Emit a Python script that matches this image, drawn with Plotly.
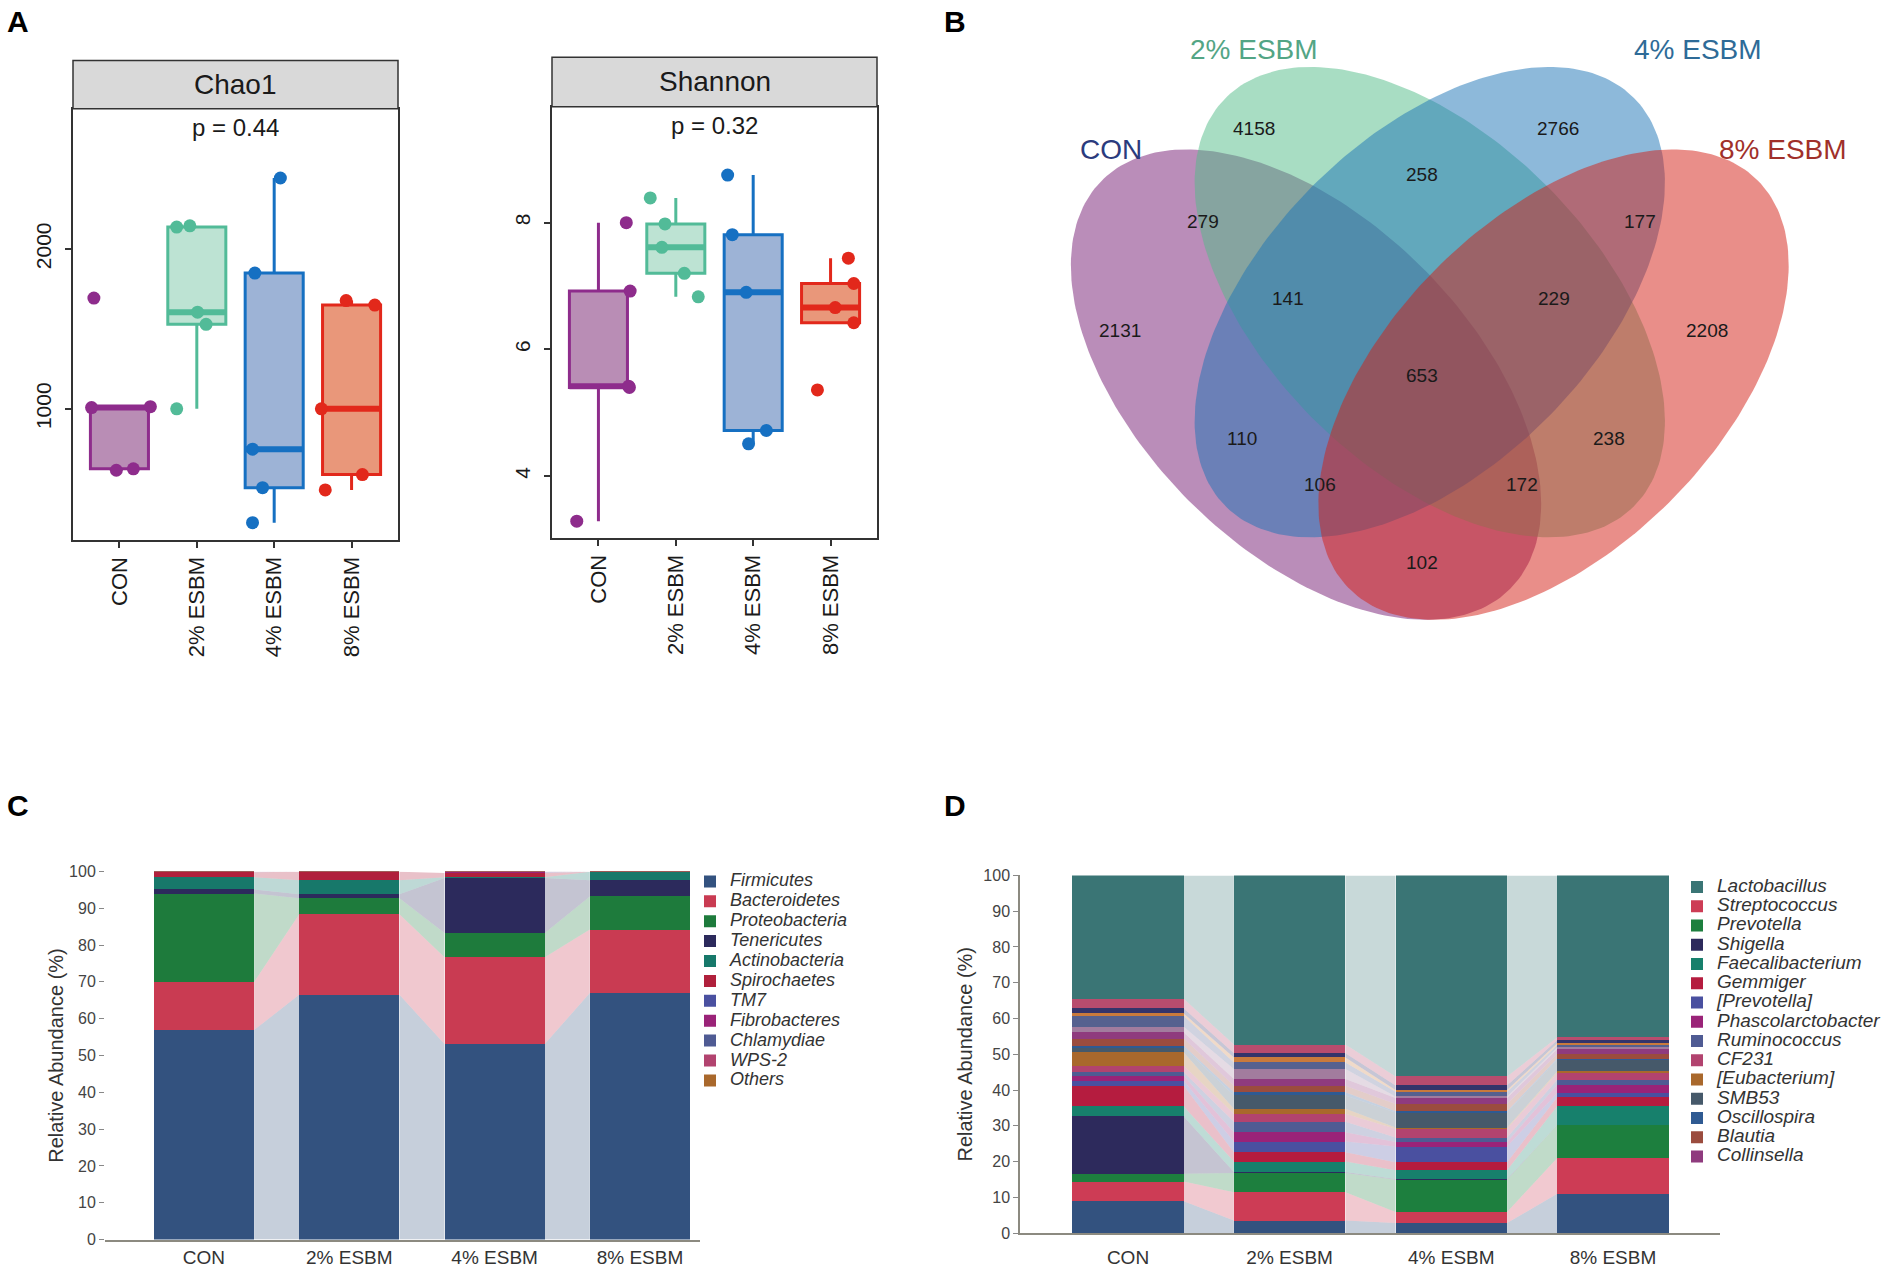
import numpy as np
import plotly.graph_objects as go

# ======================= DATA =======================
groups = ["CON", "2% ESBM", "4% ESBM", "8% ESBM"]

# Panel A - alpha diversity (5 samples per group)
chao1_con = [616, 625, 1008, 1014, 1693]
chao1_esbm2 = [1000, 1529, 1605, 2137, 2145]
chao1_esbm4 = [288, 507, 748, 1849, 2444]
chao1_esbm8 = [493, 589, 1000, 1649, 1677]
shannon_con = [3.29, 5.40, 5.42, 6.92, 8.00]
shannon_esbm2 = [6.83, 7.20, 7.61, 7.98, 8.39]
shannon_esbm4 = [4.51, 4.72, 6.90, 7.81, 8.75]
shannon_esbm8 = [5.36, 6.42, 6.66, 7.04, 7.44]
p_chao1 = "p = 0.44"
p_shannon = "p = 0.32"

# Panel B - Venn counts
venn_sets = ["CON", "2% ESBM", "4% ESBM", "8% ESBM"]
venn_regions = ["CON", "2%", "4%", "8%", "CON&2%", "2%&4%", "4%&8%", "CON&8%",
                "CON&2%&4%", "2%&4%&8%", "CON&2%&4%&8%", "CON&4%", "2%&8%",
                "CON&4%&8%", "CON&2%&8%"]
venn_counts = [2131, 4158, 2766, 2208, 279, 258, 177, 102,
               141, 229, 653, 110, 238, 106, 172]

# Panel C - phylum relative abundance (%)
phyla = ["Firmicutes", "Bacteroidetes", "Proteobacteria", "Tenericutes",
         "Actinobacteria", "Spirochaetes", "TM7", "Fibrobacteres",
         "Chlamydiae", "WPS-2", "Others"]
firmicutes = [56.9, 66.5, 53.1, 67.0]
bacteroidetes = [13.1, 21.9, 23.6, 17.2]
proteobacteria = [24.0, 4.3, 6.6, 9.0]
tenericutes = [1.1, 1.1, 14.9, 4.4]
actinobacteria = [3.3, 3.8, 0.2, 2.3]
spirochaetes = [1.4, 2.3, 1.2, 0.02]
tm7 = [0.05, 0.02, 0.10, 0.02]
fibrobacteres = [0.05, 0.01, 0.10, 0.01]
chlamydiae = [0.04, 0.01, 0.10, 0.01]
wps2 = [0.03, 0.01, 0.05, 0.01]
others_phylum = [0.03, 0.05, 0.05, 0.03]

# Panel D - genus relative abundance (%), stack order bottom -> top
genus_unlisted_bottom = [8.9, 3.5, 2.8, 11.0]
streptococcus = [5.5, 7.9, 3.1, 10.0]
prevotella = [2.2, 5.4, 9.0, 9.2]
shigella = [16.0, 0.3, 0.2, 0.1]
faecalibacterium = [2.8, 2.9, 2.5, 5.2]
gemmiger = [5.8, 2.6, 2.2, 2.5]
prevotella_br = [1.4, 3.0, 4.4, 1.2]
phascolarctobacter = [1.4, 2.6, 1.3, 2.3]
ruminococcus = [1.0, 2.9, 1.2, 1.4]
cf231 = [1.8, 2.3, 2.5, 1.8]
eubacterium_br = [3.7, 1.4, 0.3, 0.5]
smb53 = [1.4, 3.7, 4.2, 3.2]
oscillospira = [0.5, 0.9, 0.4, 0.4]
blautia = [2.0, 1.8, 2.0, 1.3]
collinsella = [1.7, 1.9, 1.7, 1.3]
minor_genus_1 = [1.6, 2.8, 0.4, 0.5]
minor_genus_2 = [3.0, 1.8, 1.3, 0.6]
minor_genus_3 = [0.7, 1.4, 0.5, 0.6]
minor_genus_4 = [1.4, 1.2, 1.3, 0.8]
minor_genus_5 = [2.7, 2.4, 2.5, 0.8]
lactobacillus = [34.5, 47.3, 56.2, 45.3]

# ======================= STYLE / LAYOUT =======================
W, H = 1902, 1280
FONT = "Liberation Sans, Arial, Helvetica, sans-serif"

def px_x(p):
    return p / W

def px_y(p):
    # vertical calibration of positions measured on the reference
    return 1 - (1.0125 * p - 8.85) / H

def rgba(hexc, a):
    hexc = hexc.lstrip("#")
    r, g, b = int(hexc[0:2], 16), int(hexc[2:4], 16), int(hexc[4:6], 16)
    return f"rgba({r},{g},{b},{a})"

box_line = ["#8E2C8C", "#52BB98", "#1670C2", "#E2281B"]
box_fill = ["#B98DB5", "#BDE3D3", "#9DB3D6", "#E9977A"]

jitter_chao1 = [[-0.04, 0.18, -0.36, 0.40, -0.33],
                [-0.26, 0.12, 0.01, -0.26, -0.09],
                [-0.28, -0.15, -0.28, -0.25, 0.08],
                [-0.34, 0.14, -0.39, 0.30, -0.07]]
jitter_shannon = [[-0.28, 0.40, 0.39, 0.41, 0.36],
                  [0.29, 0.11, -0.18, -0.14, -0.33],
                  [-0.06, 0.17, -0.09, -0.27, -0.33],
                  [-0.17, 0.30, 0.06, 0.30, 0.23]]

fig = go.Figure()

# ---------------- Panel A ----------------
def box_stats(v):
    v = np.sort(np.asarray(v, float))
    q1, med, q3 = np.percentile(v, [25, 50, 75])
    iqr = q3 - q1
    lo = v[v >= q1 - 1.5 * iqr].min()
    hi = v[v <= q3 + 1.5 * iqr].max()
    return q1, med, q3, lo, hi

BOXW = 0.75

def add_boxes(data, jit, xa, ya):
    for i, vals in enumerate(data):
        q1, med, q3, lo, hi = box_stats(vals)
        fig.add_trace(go.Box(
            x=[i], q1=[q1], median=[med], q3=[q3], lowerfence=[lo], upperfence=[hi],
            width=BOXW, whiskerwidth=0, fillcolor=box_fill[i],
            line=dict(color=box_line[i], width=3), boxpoints=False,
            name=groups[i], showlegend=False, xaxis=xa, yaxis=ya))
        fig.add_trace(go.Scatter(
            x=[i - BOXW / 2, i + BOXW / 2], y=[med, med], mode="lines",
            line=dict(color=box_line[i], width=6), showlegend=False,
            hoverinfo="skip", xaxis=xa, yaxis=ya))
        fig.add_trace(go.Scatter(
            x=[i + j for j in jit[i]], y=vals, mode="markers",
            marker=dict(color=box_line[i], size=13), showlegend=False,
            name=groups[i], xaxis=xa, yaxis=ya))

add_boxes([chao1_con, chao1_esbm2, chao1_esbm4, chao1_esbm8], jitter_chao1, "x", "y")
add_boxes([shannon_con, shannon_esbm2, shannon_esbm4, shannon_esbm8], jitter_shannon, "x2", "y2")

# ---------------- Panel B (Venn) ----------------
venn_fill = {"CON": "#751B73", "2% ESBM": "#51BB87", "4% ESBM": "#1B73B5", "8% ESBM": "#D31D13"}
venn_title_col = {"CON": "#2B3B7D", "2% ESBM": "#53A585", "4% ESBM": "#2E6B97", "8% ESBM": "#A0302A"}
venn_geom = {"CON": (0.357, 0.47, -45), "2% ESBM": (0.507, 0.57, -45),
             "4% ESBM": (0.507, 0.57, 45), "8% ESBM": (0.657, 0.47, 45)}
ELL_A, ELL_B = 0.35, 0.2
venn_title_pos = {"CON": (0.121, 0.755), "2% ESBM": (0.294, 0.876),
                  "4% ESBM": (0.832, 0.876), "8% ESBM": (0.935, 0.755)}
venn_label_pos = {"CON": (0.132, 0.536), "2%": (0.294, 0.781), "4%": (0.663, 0.781),
                  "8%": (0.843, 0.536), "CON&2%": (0.232, 0.668), "2%&4%": (0.497, 0.725),
                  "4%&8%": (0.762, 0.668), "CON&8%": (0.497, 0.254),
                  "CON&2%&4%": (0.335, 0.574), "2%&4%&8%": (0.657, 0.574),
                  "CON&2%&4%&8%": (0.497, 0.481), "CON&4%": (0.279, 0.405),
                  "2%&8%": (0.724, 0.405), "CON&4%&8%": (0.374, 0.349),
                  "CON&2%&8%": (0.619, 0.349)}

t = np.linspace(0, 2 * np.pi, 240)
for s in venn_sets:
    cx, cy, ang = venn_geom[s]
    th = np.deg2rad(ang)
    ex = cx + ELL_A * np.cos(t) * np.cos(th) - ELL_B * np.sin(t) * np.sin(th)
    ey = cy + ELL_A * np.cos(t) * np.sin(th) + ELL_B * np.sin(t) * np.cos(th)
    fig.add_trace(go.Scatter(x=ex, y=ey, fill="toself", mode="lines",
                             fillcolor=rgba(venn_fill[s], 0.5),
                             line=dict(width=0, color="rgba(0,0,0,0)"),
                             name=s, showlegend=False, hoverinfo="name",
                             xaxis="x3", yaxis="y3"))

annotations = []
for s in venn_sets:
    x, y = venn_title_pos[s]
    annotations.append(dict(x=x, y=y, xref="x3", yref="y3", text=s, showarrow=False,
                            xanchor="center", yanchor="middle",
                            font=dict(family=FONT, size=28, color=venn_title_col[s])))
for r, c in zip(venn_regions, venn_counts):
    x, y = venn_label_pos[r]
    annotations.append(dict(x=x, y=y, xref="x3", yref="y3", text=str(c), showarrow=False,
                            xanchor="center", yanchor="middle",
                            font=dict(family=FONT, size=19, color="#1a1a1a")))

# ---------------- Panels C & D (stacked bars + alluvial flows) ----------------
BARW = 0.69

def add_stack(names, series, colors, xa, ya, legend, legend_show, ranks, lsize):
    vals = np.vstack(series)
    top = np.cumsum(vals, axis=0)
    bot = top - vals
    # flows between neighbouring bars
    for k in range(vals.shape[0]):
        xs, ys = [], []
        for i in range(len(groups) - 1):
            xr, xl = i + BARW / 2, i + 1 - BARW / 2
            xs += [xr, xr, xl, xl, xr, None]
            ys += [bot[k, i], top[k, i], top[k, i + 1], bot[k, i + 1], bot[k, i], None]
        fig.add_trace(go.Scatter(x=xs, y=ys, fill="toself", mode="lines",
                                 fillcolor=rgba(colors[k], 0.28),
                                 line=dict(width=0, color="rgba(0,0,0,0)"),
                                 showlegend=False, hoverinfo="skip",
                                 xaxis=xa, yaxis=ya))
    # bars
    for k in range(vals.shape[0]):
        fig.add_trace(go.Bar(
            x=list(range(len(groups))), y=series[k], width=BARW,
            marker=dict(color=colors[k], line=dict(width=0)),
            name=f'<span style="font-size:{lsize}px">{names[k]}</span>',
            legend=legend, showlegend=legend_show[k], legendrank=ranks[k],
            hovertext=[f"{names[k]}: {v}%" for v in series[k]], hoverinfo="text",
            xaxis=xa, yaxis=ya))

phylum_series = [firmicutes, bacteroidetes, proteobacteria, tenericutes, actinobacteria,
                 spirochaetes, tm7, fibrobacteres, chlamydiae, wps2, others_phylum]
phylum_colors = ["#33527F", "#C93B52", "#1E7B3C", "#2C2A5C", "#17786A", "#B0203C",
                 "#4A50A0", "#9A2378", "#4F5B93", "#B2436F", "#A9682C"]
add_stack(phyla, phylum_series, phylum_colors, "x4", "y4", "legend",
          [True] * len(phyla), list(range(1, len(phyla) + 1)), 18)

genus_names = ["Unlisted genus (bottom)", "Streptococcus", "Prevotella", "Shigella",
               "Faecalibacterium", "Gemmiger", "[Prevotella]", "Phascolarctobacter",
               "Ruminococcus", "CF231", "[Eubacterium]", "SMB53", "Oscillospira",
               "Blautia", "Collinsella", "Minor genus 1", "Minor genus 2",
               "Minor genus 3", "Minor genus 4", "Minor genus 5", "Lactobacillus"]
genus_series = [genus_unlisted_bottom, streptococcus, prevotella, shigella, faecalibacterium,
                gemmiger, prevotella_br, phascolarctobacter, ruminococcus, cf231,
                eubacterium_br, smb53, oscillospira, blautia, collinsella,
                minor_genus_1, minor_genus_2, minor_genus_3, minor_genus_4,
                minor_genus_5, lactobacillus]
genus_colors = ["#33527F", "#CD3C55", "#1D7F3E", "#2D2A5C", "#17806C", "#B51C3F",
                "#4A50A0", "#9A2378", "#4F5B93", "#B2436F", "#A9682C", "#46596A",
                "#2F5A92", "#9B4C3E", "#8F3B7E", "#A27C9E", "#56618F", "#C97A3C",
                "#34346A", "#B84C6E", "#3A7575"]
genus_legend_show = [False] + [True] * 14 + [False] * 5 + [True]
genus_ranks = [100] + list(range(2, 16)) + [100] * 5 + [1]
add_stack(genus_names, genus_series, genus_colors, "x5", "y5", "legend2",
          genus_legend_show, genus_ranks, 19)

# ---------------- Layout ----------------
A_axis_common = dict(showgrid=False, zeroline=False, showline=True, mirror=True,
                     linecolor="#333333", linewidth=1.5, ticks="outside", ticklen=6,
                     tickcolor="#333333", tickwidth=1.5)
A_tickfont_y = dict(family=FONT, size=21, color="#1a1a1a")
A_tickfont_x = dict(family=FONT, size=22, color="#1a1a1a")

layout = dict(
    width=W, height=H, margin=dict(l=0, r=0, t=0, b=0),
    paper_bgcolor="white", plot_bgcolor="white", barmode="stack",
    font=dict(family=FONT), showlegend=True,
    xaxis=dict(domain=[px_x(73), px_x(398)], range=[-0.6, 3.6], anchor="y",
               tickvals=[0, 1, 2, 3], ticktext=groups, tickangle=-90,
               tickfont=A_tickfont_x, **A_axis_common),
    yaxis=dict(domain=[px_y(541.7), px_y(109.6)], range=[177, 2877], anchor="x",
               tickvals=[1000, 2000], tickangle=-90, tickfont=A_tickfont_y,
               ticklabelstandoff=6, **A_axis_common),
    xaxis2=dict(domain=[px_x(552), px_x(877)], range=[-0.6, 3.6], anchor="y2",
                tickvals=[0, 1, 2, 3], ticktext=groups, tickangle=-90,
                tickfont=A_tickfont_x, **A_axis_common),
    yaxis2=dict(domain=[px_y(539.5), px_y(107.5)], range=[3.02, 9.83], anchor="x2",
                tickvals=[4, 6, 8], tickangle=-90, tickfont=A_tickfont_y,
                ticklabelstandoff=6, **A_axis_common),
    xaxis3=dict(domain=[px_x(1011.5), px_x(1836.5)], range=[0, 1], anchor="y3", visible=False),
    yaxis3=dict(domain=[px_y(650), px_y(30.6)], range=[0.15, 0.9], anchor="x3", visible=False),
    xaxis4=dict(domain=[px_x(105), px_x(700)], range=[-0.681, 3.413], anchor="y4",
                tickvals=[0, 1, 2, 3], ticktext=groups, showgrid=False, zeroline=False,
                showline=True, linecolor="#8C8A80", linewidth=2, ticks="",
                tickfont=dict(family=FONT, size=19, color="#333333")),
    yaxis4=dict(domain=[px_y(1241.5), px_y(873)], range=[0, 100], anchor="x4",
                tickvals=list(range(0, 101, 10)), showgrid=False, zeroline=False,
                showline=False, ticks="outside", ticklen=5, tickcolor="#888888",
                tickfont=dict(family=FONT, size=16, color="#444444"),
                title=dict(text="Relative Abundance (%)", standoff=0,
                           font=dict(family=FONT, size=20, color="#333333"))),
    xaxis5=dict(domain=[px_x(1020), px_x(1720)], range=[-0.668, 3.662], anchor="y5",
                tickvals=[0, 1, 2, 3], ticktext=groups, showgrid=False, zeroline=False,
                showline=True, linecolor="#8C8A80", linewidth=2, ticks="",
                ticklabelstandoff=6,
                tickfont=dict(family=FONT, size=19, color="#333333")),
    yaxis5=dict(domain=[px_y(1235), px_y(877)], range=[0, 100], anchor="x5",
                tickvals=list(range(0, 101, 10)), showgrid=False, zeroline=False,
                showline=True, linecolor="#8C8A80", linewidth=1.5,
                ticks="outside", ticklen=5, tickcolor="#888888",
                tickfont=dict(family=FONT, size=16, color="#444444"),
                title=dict(text="Relative Abundance (%)", standoff=5,
                           font=dict(family=FONT, size=20, color="#333333"))),
    legend=dict(x=px_x(690), y=px_y(868), xanchor="left", yanchor="top",
                traceorder="normal", bgcolor="rgba(0,0,0,0)",
                font=dict(family=FONT, size=13, color="#333333", style="italic")),
    legend2=dict(x=px_x(1677), y=px_y(874), xanchor="left", yanchor="top",
                 traceorder="normal", bgcolor="rgba(0,0,0,0)",
                 font=dict(family=FONT, size=12.5, color="#333333", style="italic")),
)

# strips for panel A
shapes = []
strips = [("Chao1", 73, 398, 61.4, 109.6), ("Shannon", 552, 877, 58, 107.5)]
for label, x0, x1, y0, y1 in strips:
    shapes.append(dict(type="rect", xref="paper", yref="paper",
                       x0=px_x(x0), x1=px_x(x1), y0=px_y(y1), y1=px_y(y0),
                       fillcolor="#D9D9D9", line=dict(color="#333333", width=1.5)))
    annotations.append(dict(x=px_x((x0 + x1) / 2), y=px_y((y0 + y1) / 2), xref="paper",
                            yref="paper", text=label, showarrow=False,
                            xanchor="center", yanchor="middle",
                            font=dict(family=FONT, size=28, color="#1a1a1a")))

annotations.append(dict(x=1.5, y=2762, xref="x", yref="y", text=p_chao1, showarrow=False,
                        xanchor="center", yanchor="middle",
                        font=dict(family=FONT, size=24, color="#1a1a1a")))
annotations.append(dict(x=1.5, y=9.54, xref="x2", yref="y2", text=p_shannon, showarrow=False,
                        xanchor="center", yanchor="middle",
                        font=dict(family=FONT, size=24, color="#1a1a1a")))

for letter, lx, ly in [("A", 18, 22), ("B", 955, 22), ("C", 18, 807), ("D", 955, 807)]:
    annotations.append(dict(x=px_x(lx), y=px_y(ly), xref="paper", yref="paper",
                            text=f"<b>{letter}</b>", showarrow=False,
                            xanchor="center", yanchor="middle",
                            font=dict(family=FONT, size=30, color="black")))

layout["shapes"] = shapes
layout["annotations"] = annotations
fig.update_layout(**layout)

fig.write_html("out.html", config={"displayModeBar": False},
               post_script="document.body.style.margin='0px';document.body.style.overflow='hidden';")
